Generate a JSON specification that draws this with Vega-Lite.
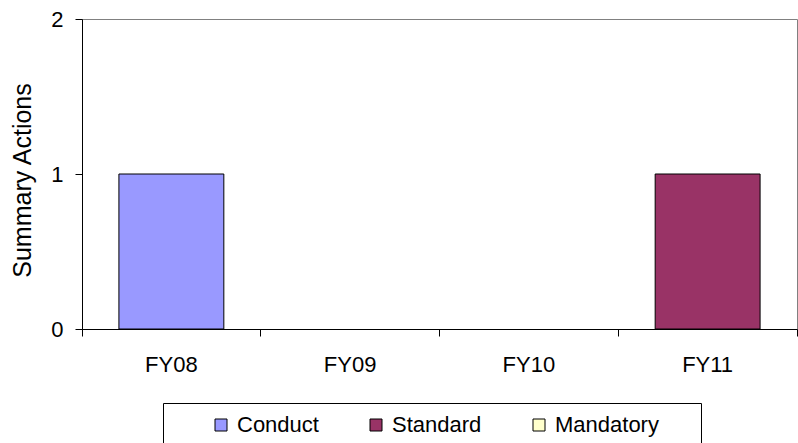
{
  "$schema": "https://vega.github.io/schema/vega-lite/v6.json",
  "width": 715,
  "height": 310,
  "autosize": {"type": "none"},
  "padding": {"left": 82, "top": 19, "right": 1, "bottom": 114},
  "background": "white",
  "config": {
    "font": "Liberation Sans",
    "view": {"stroke": "#808080", "strokeWidth": 1},
    "axis": {
      "domainColor": "black",
      "tickColor": "black",
      "labelColor": "black",
      "titleColor": "black",
      "labelFont": "Liberation Sans",
      "titleFont": "Liberation Sans",
      "labelFontSize": 22,
      "titleFontSize": 22,
      "titleFontWeight": "normal",
      "tickSize": 7,
      "grid": false
    }
  },
  "data": {
    "values": [
      {"year": "FY08", "type": "Conduct", "value": 1},
      {"year": "FY08", "type": "Standard", "value": 0},
      {"year": "FY08", "type": "Mandatory", "value": 0},
      {"year": "FY09", "type": "Conduct", "value": 0},
      {"year": "FY09", "type": "Standard", "value": 0},
      {"year": "FY09", "type": "Mandatory", "value": 0},
      {"year": "FY10", "type": "Conduct", "value": 0},
      {"year": "FY10", "type": "Standard", "value": 0},
      {"year": "FY10", "type": "Mandatory", "value": 0},
      {"year": "FY11", "type": "Conduct", "value": 0},
      {"year": "FY11", "type": "Standard", "value": 1},
      {"year": "FY11", "type": "Mandatory", "value": 0}
    ]
  },
  "transform": [{"filter": "datum.value > 0"}],
  "mark": {"type": "bar", "stroke": "black", "strokeWidth": 1, "width": {"band": 0.587}},
  "encoding": {
    "x": {
      "field": "year",
      "type": "nominal",
      "sort": ["FY08", "FY09", "FY10", "FY11"],
      "scale": {"domain": ["FY08", "FY09", "FY10", "FY11"], "paddingInner": 0, "paddingOuter": 0},
      "axis": {"title": null, "labelAngle": 0, "labelPadding": 18, "bandPosition": 1, "tickExtra": true}
    },
    "y": {
      "field": "value",
      "type": "quantitative",
      "stack": "zero",
      "scale": {"domain": [0, 2], "nice": false},
      "axis": {
        "title": "Summary Actions",
        "values": [0, 1, 2],
        "format": ".0f",
        "labelOverlap": false,
        "labelPadding": 12,
        "titleFontSize": 25,
        "titleX": -47,
        "titleY": 161,
        "titleBaseline": "bottom"
      }
    },
    "color": {
      "field": "type",
      "type": "nominal",
      "scale": {"domain": ["Conduct", "Standard", "Mandatory"], "range": ["#9999FF", "#993366", "#FFFFCC"]},
      "legend": {
        "title": " ",
        "titleOrient": "left",
        "titleFontSize": 22,
        "titlePadding": 36,
        "orient": "none",
        "legendX": 81,
        "legendY": 384,
        "direction": "horizontal",
        "strokeColor": "black",
        "fillColor": "white",
        "padding": 11,
        "columnPadding": 46,
        "symbolType": "square",
        "symbolSize": 144,
        "symbolStrokeColor": "black",
        "symbolStrokeWidth": 1,
        "labelFontSize": 22,
        "labelFont": "Liberation Sans",
        "labelColor": "black",
        "labelOffset": 5,
        "labelLimit": 400,
        "labelExpr": "datum.label == 'Mandatory' ? 'Mandatory\u00a0\u00a0\u00a0\u00a0\u00a0\u200b' : datum.label"
      }
    }
  }
}
